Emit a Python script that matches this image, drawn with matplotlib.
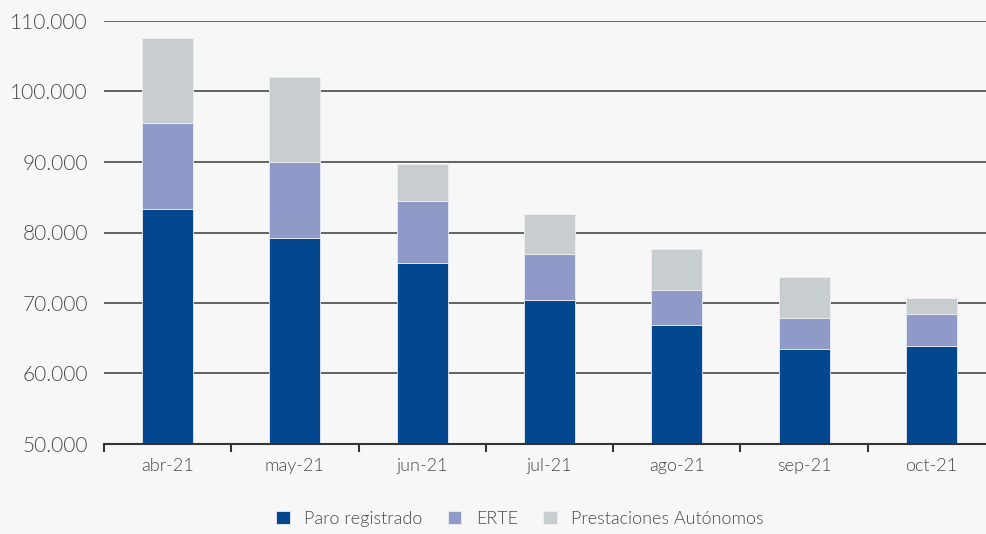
import matplotlib
matplotlib.use("Agg")
import matplotlib.pyplot as plt
import numpy as np
from matplotlib.ticker import FuncFormatter, FixedLocator

categories = ["abr-21", "may-21", "jun-21", "jul-21", "ago-21", "sep-21", "oct-21"]
paro = [83300, 79200, 75700, 70400, 66900, 63500, 63900]
erte = [12200, 10800, 8800, 6600, 4900, 4400, 4500]
autonomos = [12100, 12000, 5200, 5600, 5900, 5800, 2300]
series_names = ["Paro registrado", "ERTE", "Prestaciones Autónomos"]
colors = ["#03488e", "#8f9ac8", "#c8cdd0"]

plt.rcParams['font.family'] = ['Lato', 'DejaVu Sans']
plt.rcParams['font.weight'] = 300
bg = "#f7f7f7"
txt = "#4a4a4a"
fig = plt.figure(figsize=(9.86, 5.34), dpi=100, facecolor=bg)
ax = fig.add_axes([104/986, 1-444/534, 891/986, 423/534], facecolor=bg)

x = np.arange(len(categories))
w = 0.40
base = 50000
p = np.array(paro)
e = np.array(erte)
a = np.array(autonomos)
ax.bar(x, p - base, w, bottom=base, color=colors[0], label=series_names[0], zorder=3, edgecolor="#e8ecf4", linewidth=0.6)
ax.bar(x, e, w, bottom=p, color=colors[1], label=series_names[1], zorder=3, edgecolor="#e8ecf4", linewidth=0.6)
ax.bar(x, a, w, bottom=p + e, color=colors[2], label=series_names[2], zorder=3, edgecolor="#eeeeee", linewidth=0.6)

ax.set_xlim(-0.5, len(categories) - 0.5)
ax.set_ylim(50000, 110000)
ax.set_yticks(np.arange(50000, 110001, 10000))
ax.yaxis.set_major_formatter(FuncFormatter(lambda v, _: f"{int(v):,}".replace(",", ".")))
ax.grid(axis="y", color="#4a4a4a", linewidth=1.2, zorder=0)
ax.tick_params(axis="y", length=0, pad=11.5, labelsize=15, labelcolor=txt)
for s in ["top", "right", "left"]:
    ax.spines[s].set_visible(False)
ax.spines["bottom"].set_color("#333333")
ax.spines["bottom"].set_linewidth(1.5)
ax.spines["bottom"].set_zorder(4)
ax.set_xticks(x)
ax.set_xticklabels(categories)
ax.tick_params(axis="x", which="major", length=0, pad=10, labelsize=13, labelcolor=txt)
ax.xaxis.set_minor_locator(FixedLocator(np.arange(-0.5, len(categories), 1.0)))
ax.tick_params(axis="x", which="minor", length=6, width=1.5, color="#333333", direction="out")

leg = fig.legend(loc="center", bbox_to_anchor=(520/986, 1-519/534), ncol=3, frameon=False,
                 fontsize=13, handlelength=0.75, handleheight=0.75, columnspacing=1.4, handletextpad=0.8,
                 labelcolor=txt)
fig.savefig("out.png", dpi=100, facecolor=bg)
